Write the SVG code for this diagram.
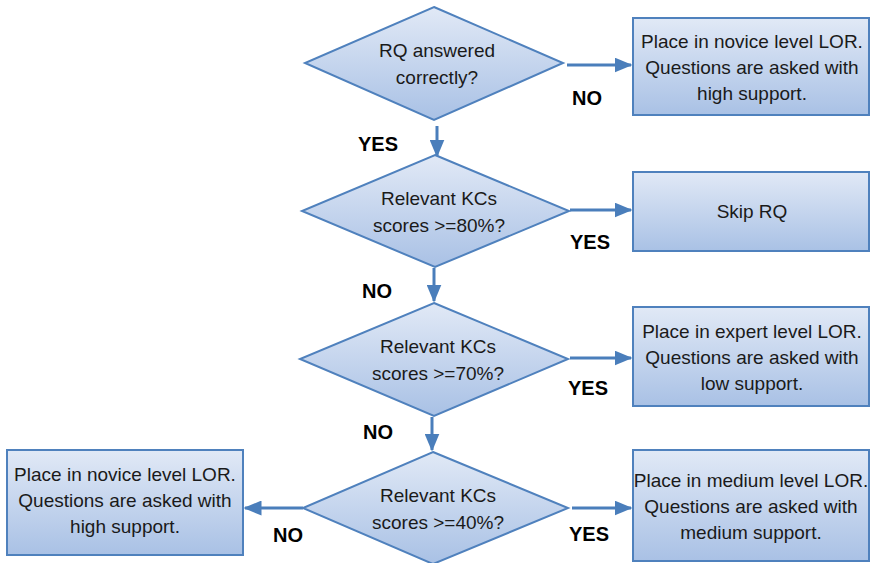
<svg xmlns="http://www.w3.org/2000/svg" width="871" height="563" viewBox="0 0 871 563">
<defs>
<linearGradient id="g" x1="0" y1="0" x2="0" y2="1">
<stop offset="0" stop-color="#e1e9f6"/>
<stop offset="1" stop-color="#a9c1e5"/>
</linearGradient>
<marker id="ah" markerWidth="6" markerHeight="5" refX="5.5" refY="2.5" orient="auto" markerUnits="strokeWidth">
<path d="M0,0 L6,2.5 L0,5 z" fill="#4a7ebb"/>
</marker>
<style>
.shape{fill:url(#g);stroke:#4f81bd;stroke-width:2}
.t{font-family:"Liberation Sans",Arial,sans-serif;font-size:19px;fill:#1a1a1a;text-anchor:middle}
.l{font-family:"Liberation Sans",Arial,sans-serif;font-size:20px;font-weight:bold;fill:#000;text-anchor:middle}
.c{stroke:#4a7ebb;stroke-width:3;fill:none;marker-end:url(#ah)}
</style>
</defs>
<rect width="871" height="563" fill="#fff"/>
<g id="connectors">
<path class="c" d="M567,65 L631,65"/>
<path class="c" d="M437,126 L437,156"/>
<path class="c" d="M570,210 L631,210"/>
<path class="c" d="M434,268 L434,301"/>
<path class="c" d="M570,358 L631,358"/>
<path class="c" d="M432,417 L432,450"/>
<path class="c" d="M572,508 L631,508"/>
<path class="c" d="M303,508 L245,508"/>
</g>
<g id="labels">
<text class="l" x="587" y="105">NO</text>
<text class="l" x="378" y="151">YES</text>
<text class="l" x="590" y="249">YES</text>
<text class="l" x="377" y="298">NO</text>
<text class="l" x="588" y="395">YES</text>
<text class="l" x="378" y="439">NO</text>
<text class="l" x="589" y="541">YES</text>
<text class="l" x="288" y="542">NO</text>
</g>
<g id="d1">
<polygon class="shape" points="434,7 563,63 434,120 305,63"/>
<text class="t" x="437" y="57">RQ answered</text>
<text class="t" x="437" y="84">correctly?</text>
</g>
<g id="d2">
<polygon class="shape" points="435,155 569,211 435,267 302,211"/>
<text class="t" x="439" y="205">Relevant KCs</text>
<text class="t" x="439" y="232">scores &gt;=80%?</text>
</g>
<g id="d3">
<polygon class="shape" points="434,303 568,359 434,416 300,359"/>
<text class="t" x="438" y="353">Relevant KCs</text>
<text class="t" x="438" y="380">scores &gt;=70%?</text>
</g>
<g id="d4">
<polygon class="shape" points="433,452 568,508 433,564 303,508"/>
<text class="t" x="438" y="502">Relevant KCs</text>
<text class="t" x="438" y="529">scores &gt;=40%?</text>
</g>
<g id="b1">
<rect class="shape" x="633" y="18" width="236" height="97"/>
<text class="t" x="752" y="48">Place in novice level LOR.</text>
<text class="t" x="752" y="74">Questions are asked with</text>
<text class="t" x="752" y="100">high support.</text>
</g>
<g id="b2">
<rect class="shape" x="633" y="172" width="236" height="79"/>
<text class="t" x="752" y="218">Skip RQ</text>
</g>
<g id="b3">
<rect class="shape" x="633" y="307" width="236" height="99"/>
<text class="t" x="752" y="338">Place in expert level LOR.</text>
<text class="t" x="752" y="364">Questions are asked with</text>
<text class="t" x="752" y="390">low support.</text>
</g>
<g id="b4">
<rect class="shape" x="633" y="450" width="236" height="111"/>
<text class="t" x="751" y="487">Place in medium level LOR.</text>
<text class="t" x="751" y="513">Questions are asked with</text>
<text class="t" x="751" y="539">medium support.</text>
</g>
<g id="b5">
<rect class="shape" x="7" y="450" width="236" height="105"/>
<text class="t" x="125" y="481">Place in novice level LOR.</text>
<text class="t" x="125" y="507">Questions are asked with</text>
<text class="t" x="125" y="533">high support.</text>
</g>
</svg>
